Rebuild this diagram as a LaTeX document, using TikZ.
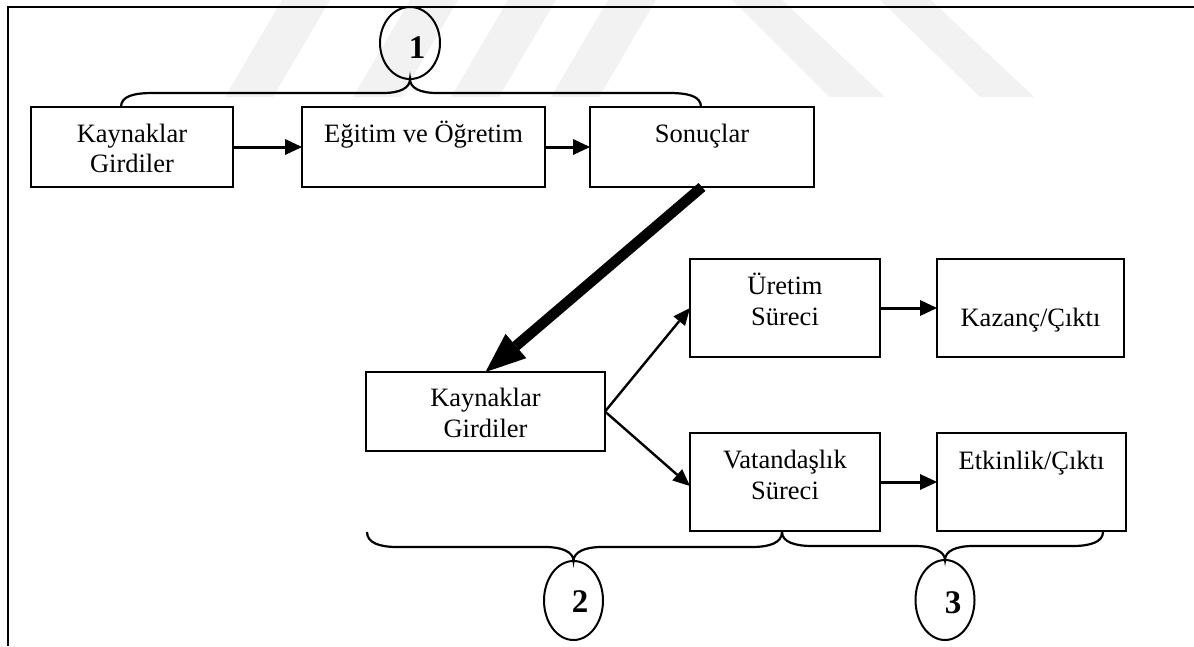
\documentclass[tikz,border=0pt]{standalone}
\usepackage{fontspec}
\setmainfont{Liberation Serif}
\usetikzlibrary{arrows.meta,shapes.geometric}

\tikzset{
  box/.style={draw, line width=2.4pt, inner sep=0pt, outer sep=0pt},
  txt/.style={anchor=base, inner sep=0pt, font=\fontsize{26.5}{31}\selectfont},
  num/.style={inner sep=0pt, font=\fontsize{33}{33}\selectfont\bfseries},
  oval/.style={draw, ellipse, line width=2pt, inner sep=0pt, outer sep=0pt},
  arr/.style={line width=3pt, -{Triangle[length=17pt,width=16pt,line width=0pt]}},
  thinarr/.style={line width=2.4pt, -{Triangle[length=17pt,width=15pt,line width=0pt]}},
  bigarr/.style={line width=10.5pt, -{Triangle[length=40pt,width=32pt,line width=0pt]}},
  brace/.style={line width=2.2pt},
  borderline/.style={line width=2.6pt},
  stripe/.style={fill=black!5, draw=none}
}

\begin{document}
\begin{tikzpicture}[x=1pt,y=-1pt]
\useasboundingbox (0,0) rectangle (1194,646);

% faint background stripes
\fill[stripe] (225,97) -- (273,97) -- (330,0) -- (282,0) -- cycle;
\fill[stripe] (353,97) -- (401,97) -- (458,0) -- (410,0) -- cycle;
\fill[stripe] (451,97) -- (499,97) -- (556,0) -- (508,0) -- cycle;
\fill[stripe] (551,97) -- (599,97) -- (656,0) -- (608,0) -- cycle;
\fill[stripe] (732,0) -- (782,0) -- (885,97) -- (829,97) -- cycle;
\fill[stripe] (880,0) -- (931,0) -- (1034,97) -- (980,97) -- cycle;

% frame
\draw[borderline] (1194,7) -- (8,7) -- (8,646);

% boxes, upper row
\node[box, minimum width=202pt, minimum height=80pt] (A) at (132,147) {};
\node[box, minimum width=243pt, minimum height=80pt] (B) at (423.5,147) {};
\node[box, minimum width=224pt, minimum height=80pt] (C) at (702,147) {};
\node[txt] (A1) at (132,142) {Kaynaklar};
\node[txt] (A2) at (132,172) {Girdiler};
\node[txt] (B1) at (423.5,142) {Eğitim ve Öğretim};
\node[txt] (C1) at (702,142) {Sonuçlar};

% boxes, lower part
\node[box, minimum width=239pt, minimum height=79pt] (D) at (485.5,411.5) {};
\node[box, minimum width=190pt, minimum height=98pt] (E) at (785,308) {};
\node[box, minimum width=187pt, minimum height=98pt] (F) at (1030.5,308) {};
\node[box, minimum width=190pt, minimum height=98pt] (G) at (785,482) {};
\node[box, minimum width=189pt, minimum height=98pt] (H) at (1031.5,482) {};
\node[txt] (D1) at (485.5,406) {Kaynaklar};
\node[txt] (D2) at (485.5,437) {Girdiler};
\node[txt] (E1) at (785,294) {Üretim};
\node[txt] (E2) at (785,325) {Süreci};
\node[txt] (F1) at (1030.5,326) {Kazanç/Çıktı};
\node[txt] (G1) at (785,468) {Vatandaşlık};
\node[txt] (G2) at (785,499) {Süreci};
\node[txt] (H1) at (1031.5,469) {Etkinlik/Çıktı};

% numbered ovals
\node[oval, minimum width=60pt, minimum height=72pt] (O1) at (410,43) {};
\node[oval, minimum width=59pt, minimum height=79pt] (O2) at (573.5,600.5) {};
\node[oval, minimum width=59pt, minimum height=80pt] (O3) at (945,600) {};
\node[num] (N1) at (417,47.5) {1};
\node[num] (N2) at (580,602) {2};
\node[num] (N3) at (953,602.5) {3};

% connectors
\draw[arr] (A.east) -- (B.west);
\draw[arr] (B.east) -- (C.west);
\draw[arr] (E.east) -- (F.west);
\draw[arr] (G.east) -- (H.west);
\draw[thinarr] (D.east) -- (E.west);
\draw[thinarr] (D.east) -- ([yshift=-4pt]G.west);
\draw[bigarr] (C.south) -- (D.north);

% braces
\draw[brace] (121,107) .. controls (121,96) and (134,93) .. (153,93)
  -- (383,93) .. controls (400,93) and (410,88) .. (O1.south)
  .. controls (410,88) and (420,93) .. (437,93)
  -- (669,93) .. controls (688,93) and (701,96) .. (701,107);
\draw[brace] (367,532) .. controls (367,543) and (380,547) .. (397,547)
  -- (545.5,547) .. controls (562,547) and (573.5,552) .. (O2.north)
  .. controls (573.5,552) and (585,547) .. (601.5,547)
  -- (752,547) .. controls (769,547) and (782,543) .. (782,532);
\draw[brace] (782,532) .. controls (782,542) and (795,546) .. (812,546)
  -- (915,546) .. controls (932,546) and (945,551) .. (O3.north)
  .. controls (945,551) and (956,546) .. (973,546)
  -- (1073,546) .. controls (1090,546) and (1103,542) .. (1103,532);
\end{tikzpicture}
\end{document}
